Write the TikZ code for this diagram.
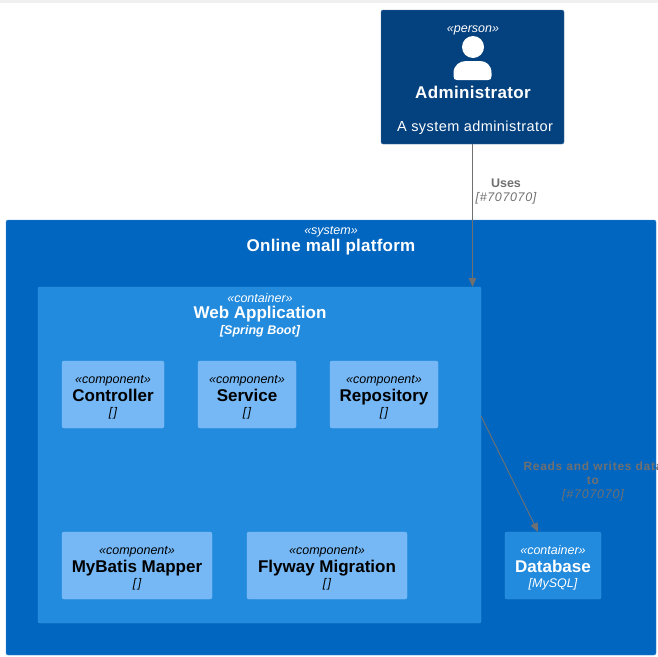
\documentclass[tikz,border=0pt]{standalone}
\usepackage{fontspec}
\setmainfont{Liberation Sans}
\usepackage{tikz}
\usetikzlibrary{arrows.meta}
\definecolor{personfill}{HTML}{04417F}
\definecolor{systemfill}{HTML}{0066C0}
\definecolor{containerfill}{HTML}{238BDD}
\definecolor{componentfill}{HTML}{75B8F5}
\definecolor{edgegray}{HTML}{707070}
\newcommand{\stereotxt}[1]{{\fontsize{12.5}{14}\itshape\selectfont\rule{0pt}{14pt}«#1»}}
\newcommand{\nametxt}[1]{{\fontsize{17}{21}\bfseries\selectfont #1}}
\newcommand{\techtxt}[1]{{\fontsize{12.5}{15}\itshape\selectfont\vphantom{[}[#1]}}
\tikzset{
  box/.style={rectangle,rounded corners=2pt,inner sep=0pt,outer sep=0pt,align=center,font=\fontsize{12}{16.5}\selectfont},
  personbox/.style={box,fill=personfill,draw=personfill!70!white,line width=0.4pt},
  systembox/.style={box,fill=systemfill,draw=systemfill!75!white,line width=0.4pt},
  containerbox/.style={box,fill=containerfill,draw=containerfill!90!white,line width=0.4pt,text=white},
  componentbox/.style={box,fill=componentfill,draw=componentfill!90!white,line width=0.4pt,text=black},
  boxtext/.style={inner sep=0pt,align=center,text=white},
  edge/.style={draw=edgegray,line width=0.9pt,-{Triangle[length=9pt,width=7.5pt]}},
  edgetext/.style={inner sep=0pt,align=center,text=edgegray,font=\fontsize{12}{14}\selectfont}
}
\begin{document}
\begin{tikzpicture}[x=1pt,y=-1pt]
  \useasboundingbox (0,0) rectangle (658,656);
  \fill[white] (0,0) rectangle (658,656);
  \fill[black!6] (0,0) rectangle (658,3);

  \node[personbox,minimum width=183pt,minimum height=134pt] (person) at (472.5,77) {};
  \node[boxtext] (persontag) at (473,27) {\stereotxt{person}};
  \fill[white] (473,47) circle (11);
  \fill[white] (453.5,76) -- (453.5,73) .. controls (453.5,65) and (460,61) .. (466,61) -- (480,61) .. controls (486,61) and (491.5,65) .. (491.5,73) -- (491.5,76) .. controls (491.5,79) and (490.5,80) .. (488,80) -- (457,80) .. controls (454.5,80) and (453.5,79) .. (453.5,76) -- cycle;
  \node[boxtext] (personname) at (473,92) {\nametxt{\addfontfeature{LetterSpace=2}Administrator}};
  \node[boxtext] (persondesc) at (475,128) {\fontsize{14.5}{17}\selectfont\addfontfeature{LetterSpace=3}A system administrator};

  \node[systembox,minimum width=650pt,minimum height=435pt] (mall) at (331,437.5) {};
  \node[boxtext] (malltag) at (331,228.5) {\stereotxt{system}};
  \node[boxtext] (mallname) at (331,247) {\nametxt{\addfontfeature{LetterSpace=1.5}Online mall platform}};

  \node[containerbox,minimum width=443pt,minimum height=336pt] (webapp) at (259.5,455) {};
  \node[boxtext] (webapptag) at (260,295.5) {\stereotxt{container}};
  \node[boxtext] (webappname) at (260,314) {\nametxt{Web Application}};
  \node[boxtext] (webapptech) at (260,331) {{\fontsize{12.5}{15}\bfseries\itshape\selectfont [Spring Boot]}};

  \node[componentbox,minimum width=102pt,minimum height=67pt] (controller) at (113,394.5) {\stereotxt{component}\\[1.5pt]\nametxt{Controller}\\[-1.5pt]\techtxt{\kern1.5pt}};
  \node[componentbox,minimum width=98pt,minimum height=67pt] (service) at (247,394.5) {\stereotxt{component}\\[1.5pt]\nametxt{Service}\\[-1.5pt]\techtxt{\kern1.5pt}};
  \node[componentbox,minimum width=108pt,minimum height=67pt] (repository) at (384,394.5) {\stereotxt{component}\\[1.5pt]\nametxt{Repository}\\[-1.5pt]\techtxt{\kern1.5pt}};
  \node[componentbox,minimum width=150pt,minimum height=67pt] (mapper) at (137,565.5) {\stereotxt{component}\\[1.5pt]\nametxt{MyBatis Mapper}\\[-1.5pt]\techtxt{\kern1.5pt}};
  \node[componentbox,minimum width=160pt,minimum height=67pt] (flyway) at (327,565.5) {\stereotxt{component}\\[1.5pt]\nametxt{Flyway Migration}\\[-1.5pt]\techtxt{\kern1.5pt}};
  \node[containerbox,minimum width=96pt,minimum height=67pt] (database) at (553,565.5) {\stereotxt{container}\\[1.5pt]\nametxt{Database}\\[-1.5pt]\techtxt{MySQL}};

  \draw[edge] (person.south) -- (person.south |- webapp.north);
  \draw[edge] (webapp.10.7) -- (database.114);

  \node[edgetext] (useslabel) at (506,191) {{\fontsize{12.5}{14}\bfseries\selectfont Uses}\\{\fontsize{12.5}{14}\itshape\selectfont\addfontfeature{LetterSpace=5}[\#707070]}};
  \node[edgetext] (readslabel) at (593,481) {{\fontsize{12}{14}\bfseries\selectfont\addfontfeature{LetterSpace=6}Reads and writes data}\\{\fontsize{12}{14}\bfseries\selectfont\addfontfeature{LetterSpace=6}to}\\{\fontsize{12.5}{14}\itshape\selectfont\addfontfeature{LetterSpace=6}[\#707070]}};
\end{tikzpicture}
\end{document}
